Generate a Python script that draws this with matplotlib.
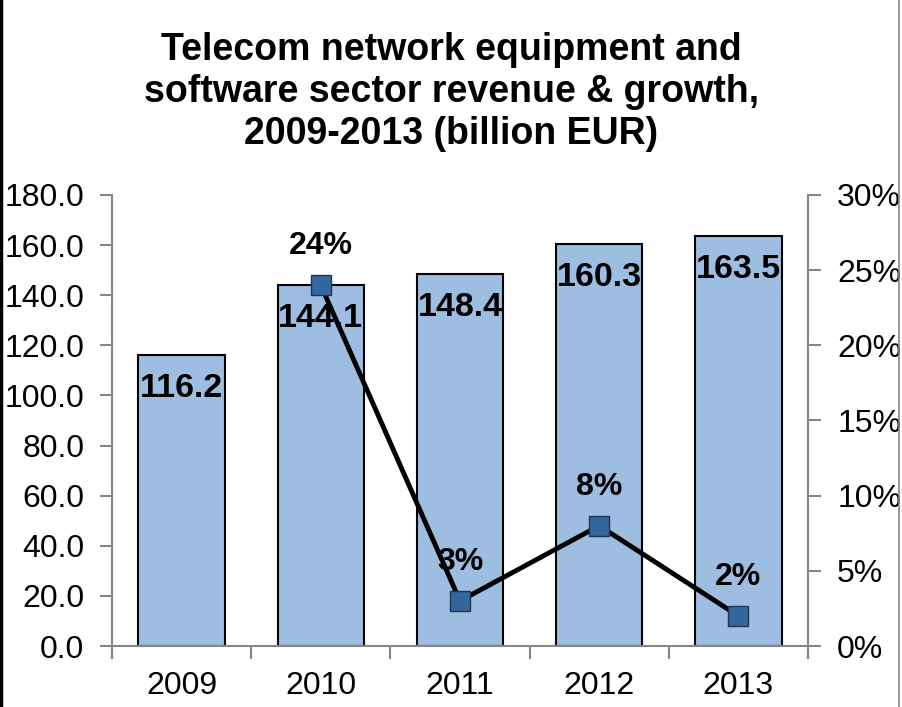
import matplotlib
matplotlib.use("Agg")
import matplotlib.pyplot as plt
from matplotlib.ticker import FuncFormatter, MultipleLocator, FixedLocator
from matplotlib.lines import Line2D

plt.rcParams['font.family'] = ['Liberation Sans', 'DejaVu Sans']

years = ["2009", "2010", "2011", "2012", "2013"]
revenue = [116.2, 144.1, 148.4, 160.3, 163.5]
growth_years = ["2010", "2011", "2012", "2013"]
growth = [0.24, 0.03, 0.08, 0.02]
growth_labels = ["24%", "3%", "8%", "2%"]

title = "Telecom network equipment and\nsoftware sector revenue & growth,\n2009-2013 (billion EUR)"

W, H = 903, 707
fig = plt.figure(figsize=(W / 100, H / 100), dpi=100)
ax = fig.add_axes([112 / W, 1 - 646 / H, (808 - 112) / W, (646 - 195) / H])
ax2 = ax.twinx()

grey = "#868686"
bar_color = "#9DBDE1"
marker_color = "#33679E"

x = list(range(len(years)))
ax.bar(x, revenue, width=0.62, color=bar_color, edgecolor="black", linewidth=1.5, zorder=2)

ax.set_xlim(-0.5, len(years) - 0.5)
ax.set_ylim(0, 180)
ax.yaxis.set_major_locator(MultipleLocator(20))
ax.yaxis.set_major_formatter(FuncFormatter(lambda v, p: f"{v:.1f}"))
ax.set_xticks(x)
ax.set_xticklabels(years)
ax.xaxis.set_minor_locator(FixedLocator([i - 0.5 for i in range(len(years) + 1)]))
ax.tick_params(axis='x', which='major', length=0, pad=18, labelsize=23)
ax.tick_params(axis='x', which='minor', length=9, width=1.5, color=grey, direction='out')
ax.tick_params(axis='y', length=9, width=1.5, color=grey, direction='out', pad=11, labelsize=23)

for s in ["top", "right"]:
    ax.spines[s].set_visible(False)
for s in ["left", "bottom"]:
    ax.spines[s].set_color(grey)
    ax.spines[s].set_linewidth(1.5)

# bar labels (inside end)
for xi, v in zip(x, revenue):
    ax.annotate(f"{v:.1f}", (xi, v), xytext=(0, -24), textcoords="offset points",
                ha="center", va="center", fontsize=24.5, fontweight="bold", zorder=3)

# growth line
gx = [years.index(y) for y in growth_years]
ax2.plot(gx, growth, color="black", linewidth=3.5, marker="s", markersize=14,
         markerfacecolor=marker_color, markeredgecolor="#1F3550", markeredgewidth=1, zorder=5)
ax2.set_ylim(0, 0.30)
ax2.yaxis.set_major_locator(MultipleLocator(0.05))
ax2.yaxis.set_major_formatter(FuncFormatter(lambda v, p: f"{v*100:.0f}%"))
ax2.tick_params(axis='y', length=9, width=1.5, color=grey, direction='out', pad=12, labelsize=23)
for s in ["top", "left", "bottom"]:
    ax2.spines[s].set_visible(False)
ax2.spines["right"].set_color(grey)
ax2.spines["right"].set_linewidth(1.5)

for xi, v, lab in zip(gx, growth, growth_labels):
    ax2.annotate(lab, (xi, v), xytext=(0, 28), textcoords="offset points",
                 ha="center", va="center", fontsize=23, fontweight="bold")

fig.text(0.5, 1 - 92 / H, title, ha="center", va="center", fontsize=27,
         fontweight="bold", linespacing=1.2)

# chart area border
fig.add_artist(Line2D([1.5 / W, 1.5 / W], [0, 1], color="black", linewidth=2.5, transform=fig.transFigure))
fig.add_artist(Line2D([899.5 / W, 899.5 / W], [0, 1], color=grey, linewidth=1.2, transform=fig.transFigure))

fig.savefig("out.png", dpi=100)
